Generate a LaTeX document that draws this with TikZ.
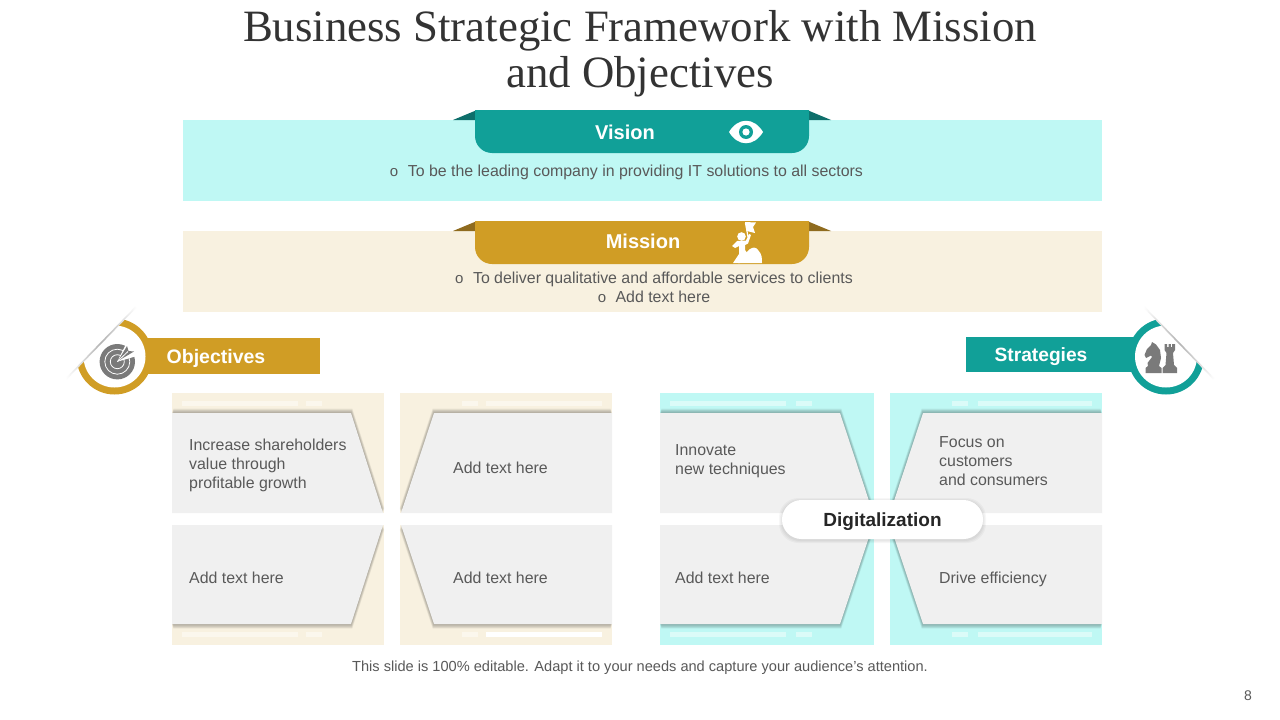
\documentclass[tikz,border=0pt]{standalone}
\usepackage{fontspec}
\setmainfont{Liberation Sans}
\newfontfamily\titlefont{Liberation Serif}
\definecolor{tealc}{HTML}{11A098}
\definecolor{goldc}{HTML}{D09D25}
\definecolor{tealdk}{HTML}{0E6F6B}
\definecolor{golddk}{HTML}{8F6B1E}
\definecolor{tealbg}{HTML}{BFF8F4}
\definecolor{goldbg}{HTML}{F8F1E0}
\definecolor{cardc}{HTML}{F0F0F0}
\definecolor{txtc}{HTML}{595959}
\definecolor{iconc}{HTML}{7A7A7A}
\newcommand{\fs}[1]{\fontsize{#1}{#1}\selectfont}
\newcommand{\fsl}{\fontsize{15.9}{19}\selectfont}
\newcommand{\bul}{{\fontsize{15}{15}\selectfont o}\hspace{9.5pt}}
\tikzset{
  body/.style={inner sep=0pt,text=txtc,font=\fs{15.9},align=left,anchor=west},
  bodym/.style={inner sep=0pt,text=txtc,font=\fsl,align=left,anchor=west},
  bodyc/.style={inner sep=0pt,text=txtc,font=\fsl,align=center},
  head/.style={inner sep=0pt,text=white,font=\bfseries\fs{20}},
  cardfill/.style={fill=cardc,draw=none},
  shade1/.style={fill=black,fill opacity=0.05,draw=none},
}
\newcommand{\cardshape}[3]{%
  \foreach \k in {1,...,6}{\fill[shade1,shift={({#1*\k*0.22},{#2*\k*0.75})}] #3;}
  \fill[cardfill] #3;}
\newcommand{\ribbon}[2]{% y top, colour
  \fill[#2] (475,#1) -- (809,#1) -- (809,#1+26) .. controls (809,#1+35.4) and (801.4,#1+43) .. (792,#1+43) -- (492,#1+43) .. controls (482.6,#1+43) and (475,#1+35.4) .. (475,#1+26) -- cycle;}
\begin{document}
\begin{tikzpicture}[x=1pt,y=-1pt]
\useasboundingbox (0,0) rectangle (1280,720);
\fill[white] (0,0) rectangle (1280,720);
% title
\node (title) at (640,54) [inner sep=0pt,align=center,text=black!80,font=\titlefont\fontsize{44.8}{46}\selectfont] {Business Strategic Framework with Mission\\and Objectives};
% vision
\fill[tealbg] (183,120) rectangle (1102,201);
\fill[tealdk] (453,120) -- (477,110) -- (477,120) -- cycle;
\fill[tealdk] (831,120) -- (807,110) -- (807,120) -- cycle;
\ribbon{110}{tealc}
\node[head] (vision) at (625,132) {Vision};
\fill[white] (729,132) .. controls (738,117) and (754,117) .. (763,132) .. controls (754,147) and (738,147) .. (729,132) -- cycle;
\fill[tealc] (746,132) circle (7);
\fill[white] (746,132) circle (3.6);
\node[bodyc] (visiontext) at (626.5,172) {\bul To be the leading company in providing IT solutions to all sectors};
% mission
\fill[goldbg] (183,231) rectangle (1102,312);
\fill[golddk] (453,231) -- (477,221) -- (477,231) -- cycle;
\fill[golddk] (831,231) -- (807,221) -- (807,231) -- cycle;
\ribbon{221}{goldc}
\node[head] (mission) at (643,241) {Mission};
\begin{scope}[white]
\fill (745,222) -- (756,222.5) -- (753,227) -- (755,233) -- (747,231) -- cycle;
\draw[line width=1.2pt] (745.5,223) -- (748,237);
\fill (741.5,236.5) circle (4.3);
\fill (732,246) -- (737,241) -- (746,240.5) -- (749,234) -- (751,235) -- (748,243.5) -- (745,245) -- (745,250) -- (748,254) -- (740,263) -- (733,263) -- (739,254) -- (739,246) -- (735,248) -- cycle;
\fill (738,263) .. controls (744,256) and (746,252) .. (750,249) .. controls (753,247) and (756,247) .. (758,250) .. controls (762,254) and (762,258) .. (762,263) -- cycle;
\end{scope}
\node[bodyc] (missiontext) at (654,287) {\bul To deliver qualitative and affordable services to clients\\\bul Add text here};
% panels
\foreach \a/\b/\c in {172/384/goldbg,400/612/goldbg,660/874/tealbg,890/1102/tealbg}{
  \fill[\c] (\a,393) rectangle (\b,513);
  \fill[\c] (\a,525) rectangle (\b,645);
}
% stripes
\foreach \a/\b in {182/298,306/322,462/478,486/602}{
  \fill[white,opacity=.45] (\a,401) rectangle (\b,406);
}
\foreach \a/\b in {182/298,306/322,462/478}{\fill[white,opacity=.45] (\a,632) rectangle (\b,637);}
\fill[white] (486,632) rectangle (602,637);
\foreach \a/\b in {670/786,796/812,952/968,978/1092}{
  \fill[white,opacity=.45] (\a,401) rectangle (\b,406);
  \fill[white,opacity=.45] (\a,632) rectangle (\b,637);
}
% cards
\cardshape{1}{-1}{(172,413) -- (351,413) -- (383,513) -- (172,513) -- cycle}
\cardshape{-1}{-1}{(401,513) -- (434,413) -- (612,413) -- (612,513) -- cycle}
\cardshape{1}{1}{(172,525) -- (383,525) -- (351,624) -- (172,624) -- cycle}
\cardshape{-1}{1}{(401,525) -- (612,525) -- (612,624) -- (434,624) -- cycle}
\cardshape{1}{-1}{(660,413) -- (840,413) -- (873,513) -- (660,513) -- cycle}
\cardshape{-1}{-1}{(890,513) -- (923,413) -- (1102,413) -- (1102,513) -- cycle}
\cardshape{1}{1}{(660,525) -- (873,525) -- (840,624) -- (660,624) -- cycle}
\cardshape{-1}{1}{(890,525) -- (1102,525) -- (1102,624) -- (923,624) -- cycle}
% card text
\node[bodym] (c1) at (189,465) {Increase shareholders\\value through\\profitable growth};
\node[body] (c2) at (453,468) {Add text here};
\node[body] (c3) at (189,578) {Add text here};
\node[body] (c4) at (453,578) {Add text here};
\node[bodym] (c5) at (675,461) {Innovate\\new techniques};
\node[bodym] (c6) at (939,461) {Focus on\\customers\\and consumers};
\node[body] (c7) at (675,578) {Add text here};
\node[body] (c8) at (939,579) {Drive efficiency};
% pill
\foreach \k in {3,2,1}{\fill[black,opacity=.03,rounded corners=19.5pt] (782-\k,500-\k+1) rectangle (983+\k,539+\k+1);}
\node[fill=white,rounded corners=19.5pt,minimum width=201pt,minimum height=39pt,inner sep=0pt,text depth=0pt,text=black!85,font=\bfseries\fs{19}] (digi) at (882.5,519.5) {Digitalization};
% objectives
\fill[goldc] (140,338) rectangle (320,374);
\fill[goldc] (114.5,356.5) circle (38);
\fill[white] (114.5,356.5) circle (31);
\fill[white] (58,372) -- (67,378) -- (135,308) -- (128,300) -- (60,300) -- cycle;
\shade[shift={(101,343)},rotate=45.8,left color=white,right color=white,middle color=black!30] (-50,-.8) rectangle (50,.8);
\node[head,font=\bfseries\fs{19.5}] (obj) at (216,358.5) {Objectives};
\begin{scope}[iconc]
\fill (117.3,361.7) circle (17.7);
\draw[white,line width=.8pt] (117.3,361.7) circle (12.5);
\draw[white,line width=.8pt] (117.3,361.7) circle (7);
\fill[white] (117.3,361.7) -- (126,344) -- (137,356) -- cycle;
\fill (118,361) -- (127,346) -- (128.5,351) -- (134,351.5) -- cycle;
\draw[white,line width=.8pt] (117.3,361.7) -- (128,351.5);
\end{scope}
% strategies
\fill[tealc] (966,337) rectangle (1140,372);
\fill[tealc] (1166,356.5) circle (38);
\fill[white] (1166,356.5) circle (31);
\fill[white] (1222.5,372) -- (1213,378) -- (1145,308) -- (1152,300) -- (1220,300) -- cycle;
\shade[shift={(1179,343)},rotate=-45.8,left color=white,right color=white,middle color=black!30] (-50,-.8) rectangle (50,.8);
\node[head,font=\bfseries\fs{19.2}] (str) at (1041,356.5) {Strategies};
\begin{scope}[iconc]
\fill (1145.5,373) -- (1161.5,373) -- (1161.5,368) -- (1159,366) -- (1161,358) -- (1160,350) -- (1156,344.5) -- (1152,342) -- (1151,345) -- (1147,349) -- (1144.5,355) -- (1146,358) -- (1151,355.5) -- (1152,357) -- (1147.5,363) -- (1148,366) -- (1145.5,368) -- cycle;
\fill (1162.5,373) -- (1177,373) -- (1177,368) -- (1174,365) -- (1173,353) -- (1175,350) -- (1175,344) -- (1172,344) -- (1172,347) -- (1170.8,347) -- (1170.8,344) -- (1168.5,344) -- (1168.5,347) -- (1167.2,347) -- (1167.2,344) -- (1164.5,344) -- (1164.5,350) -- (1166.5,353) -- (1165.5,365) -- (1162.5,368) -- cycle;
\end{scope}
% footer
\node[inner sep=0pt,text=txtc,font=\fs{14.6}] (foot) at (640,668) {This slide is 100\% editable. Adapt it to your needs and capture your audience's attention.};
\node[inner sep=0pt,text=txtc,font=\fs{14}] (page) at (1248,696) {8};
\end{tikzpicture}
\end{document}
